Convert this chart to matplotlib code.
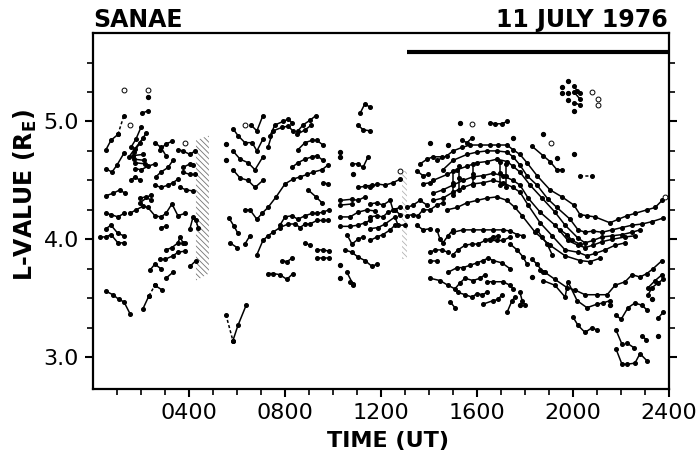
import matplotlib.pyplot as plt
import numpy as np
from matplotlib.patches import Polygon

# L-value traces, each trace is a list of (hour UT, L)
early = [
    [(0.54, 4.76), (0.75, 4.84), (1.04, 4.89)],
    [(0.54, 4.60), (0.79, 4.57), (1.00, 4.63), (1.29, 4.73)],
    [(0.54, 4.37), (0.83, 4.39), (1.13, 4.42), (1.33, 4.39)],
    [(0.54, 4.22), (0.75, 4.21), (1.04, 4.19), (1.29, 4.22)],
    [(0.54, 4.09), (0.75, 4.12), (1.04, 4.05), (1.29, 4.03)],
    [(0.29, 4.02), (0.54, 4.02), (0.75, 4.04), (1.04, 3.97), (1.29, 3.97)],
    [(0.54, 3.56), (0.83, 3.53), (1.08, 3.49), (1.29, 3.47), (1.54, 3.37)],
    [(2.08, 3.41), (2.33, 3.52)],
    [(2.58, 3.61), (2.88, 3.57)],
    [(1.58, 4.78), (1.79, 4.85), (2.00, 4.95)],
    [(1.71, 4.74), (1.96, 4.82), (2.21, 4.90)],
    [(1.50, 4.70), (1.75, 4.77), (2.10, 4.86)],
    [(2.04, 5.07), (2.29, 5.09)],
    [(1.67, 4.71), (2.08, 4.72)],
    [(1.71, 4.68), (2.13, 4.67)],
    [(1.75, 4.65), (2.17, 4.64)],
    [(1.75, 4.60), (2.00, 4.59), (2.29, 4.62), (2.58, 4.64)],
    [(1.58, 4.50), (1.75, 4.53), (1.96, 4.50)],
    [(1.96, 4.35), (2.21, 4.36), (2.42, 4.33)],
    [(1.96, 4.31), (2.42, 4.38)],
    [(2.58, 4.82), (2.83, 4.78), (3.04, 4.71)],
    [(2.79, 4.76), (3.04, 4.81), (3.29, 4.83)],
    [(2.62, 4.53), (2.83, 4.57), (3.13, 4.61), (3.33, 4.67)],
    [(2.58, 4.46), (2.83, 4.44), (3.13, 4.46), (3.33, 4.48), (3.54, 4.51)],
    [(3.54, 4.76), (3.75, 4.75), (4.04, 4.72), (4.25, 4.75)],
    [(3.75, 4.61), (4.04, 4.64), (4.17, 4.63)],
    [(3.75, 4.57), (4.04, 4.55), (4.25, 4.55)],
    [(3.63, 4.44), (3.88, 4.42), (4.17, 4.41)],
    [(1.54, 4.22), (1.79, 4.25), (2.08, 4.28), (2.29, 4.27), (2.58, 4.20),
     (2.83, 4.19), (3.04, 4.22), (3.29, 4.30), (3.54, 4.20), (3.83, 4.22)],
    [(2.83, 4.10), (3.04, 4.11)],
    [(3.04, 3.91), (3.29, 3.93), (3.54, 3.97), (3.63, 4.02), (3.75, 3.97), (3.83, 3.97)],
    [(2.79, 3.83), (3.00, 3.83), (3.33, 3.86), (3.54, 3.89), (3.83, 3.90)],
    [(2.38, 3.74), (2.58, 3.79), (2.83, 3.75)],
    [(3.04, 3.67), (3.33, 3.72)],
    [(4.04, 4.09), (4.17, 4.19), (4.29, 4.16), (4.38, 4.10)],
    [(4.04, 3.77), (4.29, 3.82)],
]

morning = [
    [(5.83, 3.14), (6.04, 3.27), (6.38, 3.44)],
    [(5.83, 4.94), (6.04, 4.88), (6.33, 4.82), (6.63, 4.82), (6.83, 4.75), (7.08, 4.85)],
    [(6.58, 4.97), (6.83, 4.92), (7.08, 5.05)],
    [(5.83, 4.75), (6.13, 4.68), (6.46, 4.65), (6.75, 4.59), (7.08, 4.70)],
    [(5.83, 4.59), (6.13, 4.52), (6.46, 4.50), (6.75, 4.44), (7.08, 4.50)],
    [(6.33, 4.25), (6.54, 4.25), (6.83, 4.17), (7.04, 4.22), (7.29, 4.27), (7.63, 4.36),
     (8.00, 4.47), (8.33, 4.51), (8.63, 4.53), (8.92, 4.55), (9.17, 4.57), (9.54, 4.59), (9.79, 4.63)],
    [(5.67, 4.18), (5.88, 4.11), (6.04, 4.05)],
    [(6.33, 3.96), (6.54, 4.03)],
    [(5.71, 3.97), (6.00, 3.93)],
    [(6.83, 3.87), (7.08, 3.99), (7.29, 4.03), (7.50, 4.06), (7.79, 4.10), (8.13, 4.13), (8.42, 4.13),
     (8.63, 4.10), (8.83, 4.13), (9.04, 4.13), (9.33, 4.16), (9.58, 4.16), (9.79, 4.16)],
    [(7.79, 4.12), (8.00, 4.19), (8.29, 4.20), (8.54, 4.17), (8.83, 4.20), (9.13, 4.22),
     (9.33, 4.22), (9.58, 4.23), (9.83, 4.25)],
    [(7.88, 3.82), (8.08, 3.81), (8.29, 3.84)],
    [(7.29, 3.71), (7.50, 3.71), (7.79, 3.70), (8.08, 3.66), (8.33, 3.71)],
    [(8.83, 3.97), (9.04, 3.95)],
    [(9.33, 3.91), (9.58, 3.91), (9.83, 3.90)],
    [(9.33, 3.84), (9.58, 3.84), (9.83, 3.84)],
    [(7.38, 4.88), (7.58, 4.97), (7.92, 5.00), (8.13, 5.02), (8.29, 4.99)],
    [(7.29, 4.78), (7.50, 4.92), (7.88, 4.95), (8.13, 4.96), (8.33, 4.92)],
    [(8.54, 4.92), (8.75, 4.97), (9.04, 5.01), (9.29, 5.05)],
    [(8.50, 4.89), (8.85, 4.93), (9.10, 4.97)],
    [(8.54, 4.76), (8.83, 4.82), (9.13, 4.84), (9.33, 4.84), (9.58, 4.80)],
    [(8.29, 4.61), (8.54, 4.65), (8.83, 4.68), (9.13, 4.70), (9.33, 4.71), (9.58, 4.67)],
    [(9.58, 4.48), (9.79, 4.47)],
    [(8.96, 4.42), (9.29, 4.36), (9.54, 4.31)],
    [(10.79, 4.64), (11.04, 4.64), (11.25, 4.61), (11.46, 4.70)],
    [(11.54, 5.12), (11.33, 5.15), (11.13, 5.07)],
    [(11.04, 4.97), (11.25, 4.93), (11.54, 4.92)],
    [(10.29, 4.33), (10.79, 4.34), (11.04, 4.33), (11.33, 4.36)],
    [(11.04, 4.44), (11.33, 4.45), (11.63, 4.46)],
    [(10.29, 4.29), (10.79, 4.30)],
    [(10.29, 4.19), (10.71, 4.19), (11.04, 4.23), (11.42, 4.25), (11.75, 4.24)],
    [(10.29, 4.11), (10.71, 4.11), (11.04, 4.12), (11.33, 4.14), (11.54, 4.16)],
    [(10.58, 4.04), (10.79, 3.96), (11.04, 4.00), (11.25, 4.02)],
    [(10.50, 3.91), (10.79, 3.89), (11.04, 3.85), (11.33, 3.82), (11.63, 3.77), (11.83, 3.79)],
    [(10.58, 3.72), (10.83, 3.62)],
    [(10.71, 3.64), (10.83, 3.61)],
]

noon = [
    [(11.54, 4.30), (11.83, 4.31), (12.08, 4.29), (12.38, 4.33), (12.50, 4.25), (12.79, 4.27)],
    [(11.54, 4.19), (11.83, 4.20), (12.08, 4.19), (12.29, 4.23), (12.58, 4.25), (12.79, 4.21)],
    [(11.54, 4.09), (11.88, 4.10), (12.17, 4.13), (12.58, 4.19), (12.71, 4.12), (13.00, 4.12)],
    [(11.54, 3.99), (11.83, 4.02), (12.08, 4.04), (12.38, 4.08), (12.58, 4.12)],
    [(11.54, 4.44), (11.83, 4.47), (12.17, 4.46), (12.50, 4.48), (12.79, 4.51)],
    [(13.08, 4.27), (13.33, 4.29), (13.63, 4.33), (13.92, 4.29)],
    [(13.08, 4.20), (13.33, 4.21), (13.54, 4.20), (13.75, 4.25), (14.04, 4.25), (14.33, 4.29), (14.58, 4.31)],
    [(13.50, 4.12), (13.75, 4.08), (14.04, 4.09)],
    [(14.33, 4.08), (14.46, 4.00), (14.58, 3.97), (14.79, 4.03), (15.00, 4.08)],
    [(13.63, 4.64), (13.92, 4.68), (14.17, 4.70), (14.54, 4.70)],
    [(13.50, 4.58), (13.75, 4.54), (13.96, 4.55)],
    [(13.75, 4.47), (14.04, 4.48)],
    [(16.54, 4.99), (16.75, 4.98), (17.04, 4.98), (17.25, 5.00)],
    [(15.38, 4.84), (15.58, 4.82), (15.79, 4.86)],
    [(14.04, 3.89), (14.25, 3.91), (14.54, 3.91), (14.79, 3.89)],
    [(14.04, 3.82), (14.33, 3.82)],
    [(14.04, 3.67), (14.46, 3.65), (14.79, 3.61), (15.08, 3.58), (15.29, 3.63), (15.50, 3.67),
     (15.83, 3.65), (16.13, 3.67), (16.33, 3.70)],
    [(14.88, 3.47), (15.08, 3.42)],
]

arch = [
    [(14.33, 4.67), (14.75, 4.71), (15.00, 4.75), (15.38, 4.78), (15.71, 4.80), (16.13, 4.80),
     (16.54, 4.80), (16.88, 4.80), (17.25, 4.80), (17.50, 4.76), (17.79, 4.72), (18.08, 4.65),
     (18.50, 4.54), (19.04, 4.42), (19.54, 4.36), (20.04, 4.29), (20.29, 4.21), (20.58, 4.20),
     (20.92, 4.19), (21.54, 4.14), (21.88, 4.17), (22.25, 4.20), (22.58, 4.22), (23.08, 4.25),
     (23.42, 4.27), (23.71, 4.33)],
    [(14.58, 4.59), (15.00, 4.67), (15.58, 4.72), (16.00, 4.74), (16.42, 4.75), (16.83, 4.75),
     (17.25, 4.74), (17.50, 4.70), (17.79, 4.63), (18.08, 4.54), (18.50, 4.46), (18.96, 4.34),
     (19.33, 4.27), (19.88, 4.17), (20.21, 4.08), (20.50, 4.06), (20.83, 4.07), (21.21, 4.06),
     (21.63, 4.08), (22.04, 4.10), (22.46, 4.12), (22.88, 4.13), (23.29, 4.15), (23.75, 4.18)],
    [(14.17, 4.50), (14.75, 4.55), (15.17, 4.59), (15.58, 4.62), (16.00, 4.65), (16.42, 4.66),
     (16.83, 4.68), (17.25, 4.66), (17.50, 4.62), (17.79, 4.57), (18.21, 4.46), (18.71, 4.35),
     (19.25, 4.23), (19.67, 4.12), (20.21, 4.01), (20.50, 3.97), (20.83, 3.99), (21.21, 4.02),
     (21.63, 4.03), (22.04, 4.04), (22.46, 4.06), (22.79, 4.08)],
    [(14.17, 4.39), (14.58, 4.42), (15.00, 4.46), (15.42, 4.50), (15.83, 4.53), (16.25, 4.54),
     (16.67, 4.56), (17.08, 4.54), (17.50, 4.50), (17.79, 4.46), (18.13, 4.35), (18.63, 4.23),
     (19.25, 4.12), (19.79, 3.99), (20.21, 3.95), (20.50, 3.93), (20.83, 3.95), (21.21, 3.98),
     (21.63, 4.00), (22.17, 4.02), (22.58, 4.03)],
    [(14.17, 4.33), (14.58, 4.35), (15.00, 4.40), (15.42, 4.44), (15.83, 4.47), (16.25, 4.48),
     (16.67, 4.50), (17.08, 4.48), (17.50, 4.44), (17.79, 4.40), (18.13, 4.29), (18.63, 4.14),
     (19.13, 4.03), (19.67, 3.91), (20.21, 3.89), (20.58, 3.86), (20.92, 3.88), (21.33, 3.91),
     (21.75, 3.95), (22.17, 3.97)],
    [(14.75, 4.25), (15.17, 4.27), (15.58, 4.31), (16.00, 4.33), (16.42, 4.35), (16.83, 4.36),
     (17.25, 4.33), (17.58, 4.27), (17.88, 4.20), (18.42, 4.06), (19.04, 3.95), (19.67, 3.86),
     (20.29, 3.82), (20.71, 3.81), (21.13, 3.84)],
    [(15.00, 4.58), (15.00, 4.48), (15.00, 4.38)],
    [(15.25, 4.62), (15.25, 4.52), (15.25, 4.42)],
    [(15.85, 4.64), (15.85, 4.55), (15.85, 4.46)],
    [(16.95, 4.66), (16.95, 4.56), (16.95, 4.46)],
    [(17.20, 4.64), (17.20, 4.54), (17.20, 4.44)],
    [(15.00, 4.06), (15.42, 4.08), (15.83, 4.08), (16.25, 4.08), (16.67, 4.08), (17.08, 4.08),
     (17.38, 4.07), (17.67, 4.04), (17.92, 4.03)],
    [(18.50, 4.08), (18.71, 4.02), (18.92, 3.96), (19.13, 3.87)],
    [(19.46, 4.08), (19.75, 4.04), (19.96, 3.99), (20.29, 3.96)],
    [(16.54, 3.99), (16.83, 3.99), (17.08, 3.99), (17.38, 4.02)],
    [(17.38, 3.96), (17.67, 3.91), (17.92, 3.85), (18.08, 3.79)],
    [(15.00, 3.87), (15.21, 3.91), (15.50, 3.95), (15.79, 3.96), (16.04, 3.96), (16.33, 3.99),
     (16.67, 4.02), (16.88, 4.03)],
    [(14.79, 3.72), (15.17, 3.76), (15.42, 3.76), (15.71, 3.78), (16.00, 3.80), (16.25, 3.82),
     (16.46, 3.84), (16.67, 3.82), (17.04, 3.80), (17.38, 3.75)],
    [(16.42, 3.64), (16.67, 3.64), (17.08, 3.64), (17.38, 3.61), (17.50, 3.58)],
    [(15.21, 3.55), (15.50, 3.53), (15.79, 3.51), (16.00, 3.54), (16.21, 3.53), (16.42, 3.55)],
    [(16.25, 3.45), (16.67, 3.48), (16.88, 3.49), (17.04, 3.53)],
    [(17.25, 3.38), (17.46, 3.48), (17.58, 3.51)],
    [(17.79, 3.55), (17.88, 3.48), (18.00, 3.44)],
    [(18.29, 3.83), (18.50, 3.79), (18.75, 3.72)],
]

evening = [
    [(18.29, 4.79), (18.75, 4.71), (19.04, 4.66), (19.33, 4.59), (19.54, 4.59)],
    [(20.04, 5.30), (20.17, 5.26), (20.29, 5.24)],
    [(20.04, 5.25), (20.29, 5.19)],
    [(20.04, 5.16), (20.29, 5.14)],
    [(18.63, 3.74), (18.83, 3.72), (19.25, 3.66), (19.75, 3.59), (20.08, 3.57), (20.50, 3.53),
     (21.00, 3.53), (21.42, 3.53), (21.75, 3.61), (22.17, 3.64), (22.46, 3.70), (22.79, 3.68),
     (23.08, 3.71), (23.33, 3.75), (23.71, 3.82)],
    [(18.75, 3.65), (19.25, 3.61), (19.67, 3.51), (19.79, 3.64), (20.17, 3.48), (20.58, 3.42),
     (21.00, 3.45), (21.25, 3.46), (21.54, 3.48)],
    [(21.79, 3.36), (22.00, 3.32), (22.29, 3.42), (22.58, 3.46), (22.88, 3.44), (23.08, 3.40)],
    [(23.13, 3.53), (23.29, 3.59), (23.54, 3.63), (23.75, 3.66)],
    [(23.13, 3.59), (23.42, 3.65), (23.71, 3.70)],
    [(20.00, 3.34), (20.21, 3.27), (20.50, 3.21), (20.79, 3.25), (21.00, 3.23)],
    [(21.79, 3.23), (22.04, 3.11)],
    [(22.25, 3.12), (22.54, 3.08)],
    [(22.88, 3.18), (23.04, 3.15)],
    [(21.79, 3.07), (22.04, 2.94), (22.25, 2.94), (22.58, 2.95), (22.79, 3.03), (23.08, 2.97)],
    [(23.54, 3.33), (23.75, 3.38)],
]

dashed = [
    [(1.04, 4.89), (1.29, 5.05)],
    [(2.33, 3.52), (2.58, 3.61)],
    [(5.54, 3.36), (5.83, 3.14)],
    [(20.29, 4.54), (20.79, 4.54)],
]

dot_t = [2.29, 5.54, 5.54, 10.29, 10.29, 10.83, 10.29, 10.29, 14.04, 14.79, 15.29, 17.50,
         18.75, 19.33, 20.04, 19.79, 19.54, 19.54, 19.79, 19.79, 20.04, 18.29, 21.54,
         23.29, 23.54, 17.79]
dot_L = [5.21, 4.81, 4.67, 4.74, 4.70, 4.55, 3.78, 3.67, 4.82, 4.80, 4.99, 4.86,
         4.89, 4.69, 4.72, 5.34, 5.29, 5.24, 5.24, 5.18, 5.09, 3.68, 3.44,
         3.49, 3.18, 3.44]

open_t = [1.29, 2.29, 1.54, 3.83, 6.33, 12.79, 15.79, 19.08, 20.79, 21.04, 21.04, 23.85]
open_L = [5.27, 5.27, 4.97, 4.82, 4.97, 4.58, 4.98, 4.82, 5.25, 5.19, 5.14, 4.36]

# gaps in the data (hatched)
hatch1_t = [4.29, 4.83]
hatch1_top = [4.84, 4.88]
hatch1_bot = [3.65, 3.71]
hatch2_t = [12.88, 13.08]
hatch2_top = [4.58, 4.58]
hatch2_bot = [3.83, 3.83]

bar_t = [13.1, 23.95]
bar_L = [5.585, 5.585]

plt.rcParams['hatch.linewidth'] = 0.6

fig = plt.figure(figsize=(6.98, 4.55), dpi=100)
ax = fig.add_axes([0.1332, 0.145, 0.8253, 0.7824])


def draw(traces, ls='-'):
    for tr in traces:
        t, L = zip(*tr)
        ax.plot(t, L, color='black', lw=1.1, ls=ls, marker='o', ms=2.6,
                mfc='black', mec='black', solid_capstyle='round')


draw(early)
draw(morning)
draw(noon)
draw(arch)
draw(evening)
draw(dashed, ls=(0, (2, 1.5)))

ax.plot(dot_t, dot_L, 'o', color='black', ms=2.8)
ax.plot(open_t, open_L, 'o', mfc='white', mec='black', mew=0.7, ms=3.5)

for ht, htop, hbot, col in [(hatch1_t, hatch1_top, hatch1_bot, '0.45'),
                            (hatch2_t, hatch2_top, hatch2_bot, '0.7')]:
    verts = [(ht[0], htop[0]), (ht[1], htop[1]), (ht[1], hbot[1]), (ht[0], hbot[0])]
    ax.add_patch(Polygon(verts, closed=True, fill=False, hatch='\\\\\\\\\\\\',
                         edgecolor=col, lw=0))

ax.plot(bar_t, bar_L, color='black', lw=3, solid_capstyle='butt')

ax.set_xlim(0, 24)
ax.set_ylim(2.73, 5.75)
ax.set_xticks([4, 8, 12, 16, 20, 24])
ax.set_xticklabels(['0400', '0800', '1200', '1600', '2000', '2400'])
ax.set_xticks(range(1, 24), minor=True)
ax.set_yticks([3, 4, 5])
ax.set_yticklabels(['3.0', '4.0', '5.0'])
ax.set_yticks(np.arange(3, 5.51, 0.25), minor=True)
ax.tick_params(which='both', direction='out', right=True, top=False, labelright=False)
ax.tick_params(which='major', length=6, width=1.5, labelsize=16, pad=4)
ax.tick_params(which='minor', length=4, width=1.2)
for sp in ax.spines.values():
    sp.set_linewidth(1.6)

fig.text(93 / 698, 1 - 20 / 455, 'SANAE', ha='left', va='center',
         fontsize=17, fontweight='bold')
fig.text(668 / 698, 1 - 20 / 455, '11 JULY 1976', ha='right', va='center',
         fontsize=17, fontweight='bold')
fig.text(388 / 698, 1 - 441 / 455, 'TIME (UT)', ha='center', va='center',
         fontsize=16, fontweight='bold')
fig.text(25 / 698, 1 - 195 / 455, r'L-VALUE (R$_\mathbf{E}$)', ha='center', va='center',
         rotation=90, fontsize=17, fontweight='bold')

fig.savefig('out.png', dpi=100)
